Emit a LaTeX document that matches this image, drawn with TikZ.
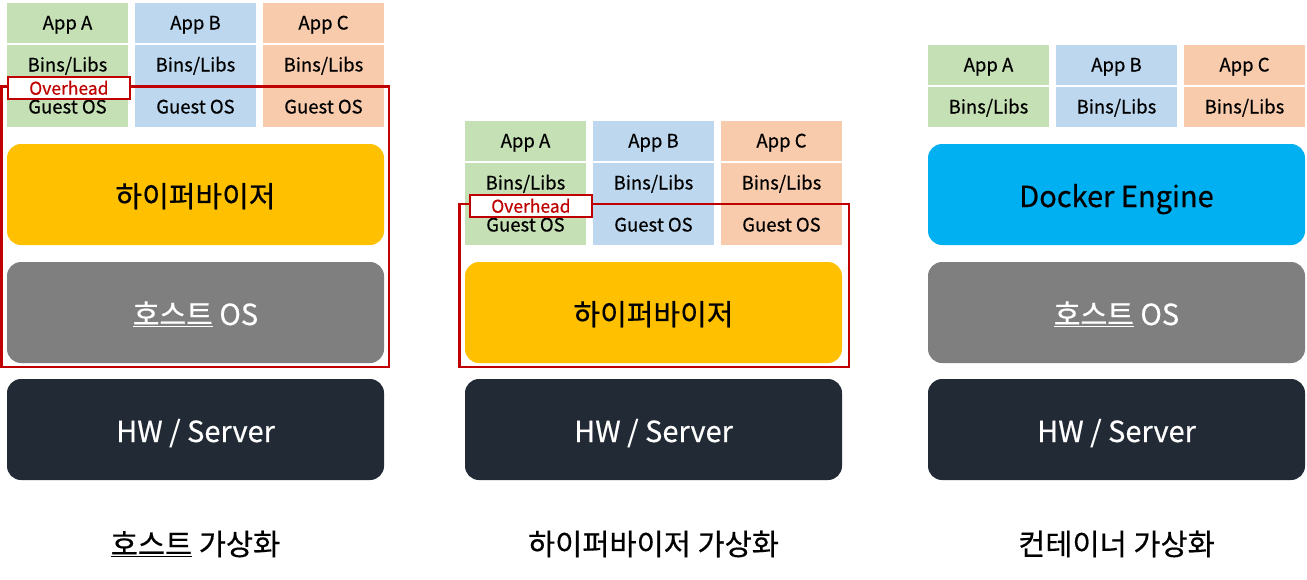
\documentclass[tikz,border=0pt]{standalone}
\usepackage{fontspec}
\setmainfont{Noto Sans CJK KR}[FakeBold=0.5]
\usepackage{tikz}
\usetikzlibrary{positioning,calc}

\definecolor{appgreen}{HTML}{C5E0B4}
\definecolor{appblue}{HTML}{BDD7EE}
\definecolor{apporange}{HTML}{F8CBAD}
\definecolor{hvyellow}{HTML}{FFC000}
\definecolor{hostgray}{HTML}{7F7F7F}
\definecolor{hwdark}{HTML}{222A35}
\definecolor{dockerblue}{HTML}{00B0F0}
\definecolor{ohred}{HTML}{C00000}

\tikzset{
  app/.style={minimum width=121pt, minimum height=40pt, inner sep=0pt, outer sep=0pt,
    text height=16.5pt, text depth=3.5pt, anchor=north west, font=\fontsize{18.5}{21}\selectfont},
  layer/.style={rounded corners=14pt, minimum width=377pt, minimum height=101pt,
    inner sep=0pt, outer sep=0pt, text height=31pt, text depth=6pt,
    font=\fontsize{29}{34}\selectfont},
  ohframe/.style={draw=ohred, line width=2.5pt},
  ohlabel/.style={draw=ohred, line width=1.8pt, fill=white, text=ohred, anchor=north west,
    minimum width=122pt, minimum height=22pt, inner sep=0pt, text height=17pt, text depth=3.4pt,
    font=\fontsize{17.5}{20}\selectfont},
  caption/.style={font=\fontsize{29.5}{34}\selectfont}
}

\begin{document}
\begin{tikzpicture}[x=1pt, y=-1pt]
  \useasboundingbox (0,0) rectangle (1307,579);

  % host virtualization
  \node[app, fill=appgreen] (a1) at (7,3) {App A};
  \node[app, fill=appblue, right=7pt of a1] (b1) {App B};
  \node[app, fill=apporange, right=7pt of b1] (c1) {App C};
  \node[app, fill=appgreen, below=2pt of a1] (la1) {Bins/Libs};
  \node[app, fill=appblue, below=2pt of b1] (lb1) {Bins/Libs};
  \node[app, fill=apporange, below=2pt of c1] (lc1) {Bins/Libs};
  \node[app, fill=appgreen, below=2pt of la1] (ga1) {Guest OS};
  \node[app, fill=appblue, below=2pt of lb1] (gb1) {Guest OS};
  \node[app, fill=apporange, below=2pt of lc1] (gc1) {Guest OS};
  \node[layer, fill=hvyellow, below=17pt of ga1.south west, anchor=north west] (hv1) {하이퍼바이저};
  \node[layer, fill=hostgray, text=white, below=17pt of hv1] (host1) {\underline{호스트} OS};
  \node[layer, fill=hwdark, text=white, below=16pt of host1] (hw1) {HW / Server};
  \draw[ohframe] ($(ga1.north west)+(-5.5,-0.5)$) rectangle ($(host1.south east)+(5,4)$);
  \node[ohlabel] (oh1) at ($(ga1.north west)+(0,-11)$) {Overhead};
  \node[caption] (cap1) at ($(hw1.south)+(0,64)$) {\underline{호스트} 가상화};

  % hypervisor virtualization
  \node[app, fill=appgreen] (a2) at (465,121) {App A};
  \node[app, fill=appblue, right=7pt of a2] (b2) {App B};
  \node[app, fill=apporange, right=7pt of b2] (c2) {App C};
  \node[app, fill=appgreen, below=2pt of a2] (la2) {Bins/Libs};
  \node[app, fill=appblue, below=2pt of b2] (lb2) {Bins/Libs};
  \node[app, fill=apporange, below=2pt of c2] (lc2) {Bins/Libs};
  \node[app, fill=appgreen, below=2pt of la2] (ga2) {Guest OS};
  \node[app, fill=appblue, below=2pt of lb2] (gb2) {Guest OS};
  \node[app, fill=apporange, below=2pt of lc2] (gc2) {Guest OS};
  \node[layer, fill=hvyellow, below=17pt of ga2.south west, anchor=north west] (hv2) {하이퍼바이저};
  \node[layer, fill=hwdark, text=white, below=16pt of hv2] (hw2) {HW / Server};
  \draw[ohframe] ($(ga2.north west)+(-5.5,-1)$) rectangle ($(hv2.south east)+(7,4)$);
  \node[ohlabel] (oh2) at ($(ga2.north west)+(4,-11)$) {Overhead};
  \node[caption] (cap2) at ($(hw2.south)+(0,64)$) {하이퍼바이저 가상화};

  % container virtualization
  \node[app, fill=appgreen] (a3) at (928,45) {App A};
  \node[app, fill=appblue, right=7pt of a3] (b3) {App B};
  \node[app, fill=apporange, right=7pt of b3] (c3) {App C};
  \node[app, fill=appgreen, below=2pt of a3] (la3) {Bins/Libs};
  \node[app, fill=appblue, below=2pt of b3] (lb3) {Bins/Libs};
  \node[app, fill=apporange, below=2pt of c3] (lc3) {Bins/Libs};
  \node[layer, fill=dockerblue, below=17pt of la3.south west, anchor=north west] (dock3) {Docker Engine};
  \node[layer, fill=hostgray, text=white, below=17pt of dock3] (host3) {\underline{호스트} OS};
  \node[layer, fill=hwdark, text=white, below=16pt of host3] (hw3) {HW / Server};
  \node[caption] (cap3) at ($(hw3.south)+(0,64)$) {컨테이너 가상화};
\end{tikzpicture}
\end{document}
